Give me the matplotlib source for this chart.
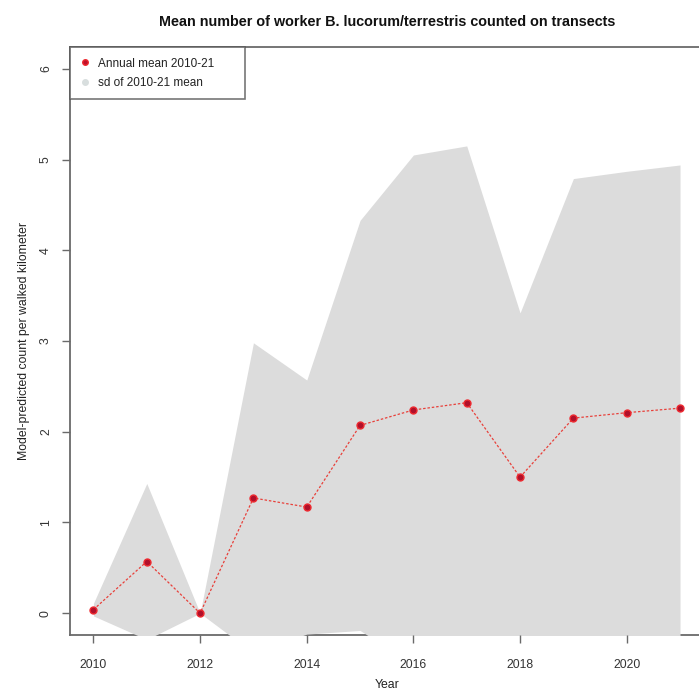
import matplotlib.pyplot as plt
import numpy as np
from matplotlib.lines import Line2D

plt.rcParams['font.family'] = ['Liberation Sans', 'DejaVu Sans']

# values
years = [2010, 2011, 2012, 2013, 2014, 2015, 2016, 2017, 2018, 2019, 2020, 2021]
annual_mean = [0.04, 0.57, 0.00, 1.27, 1.17, 2.07, 2.24, 2.32, 1.50, 2.15, 2.21, 2.26]
mean_sd = [0.07, 0.86, 0.00, 1.71, 1.40, 2.26, 2.81, 2.83, 1.81, 2.64, 2.66, 2.68]

x_ticks = [2010, 2012, 2014, 2016, 2018, 2020]
y_ticks = [0, 1, 2, 3, 4, 5, 6]

mean_arr = np.array(annual_mean)
sd_arr = np.array(mean_sd)
upper = mean_arr + sd_arr
lower = mean_arr - sd_arr

fig = plt.figure(figsize=(6.99, 6.93), dpi=100)
ax = fig.add_axes([70 / 699, 58 / 693, 633.5 / 699, 588 / 693])

# sd band (drawn over the box, like R's polygon)
ax.fill_between(years, lower, upper, color='#dcdcdc', linewidth=0, zorder=1)

# annual mean line + points
ax.plot(years, annual_mean, color='#e8403a', linestyle=(0, (2, 1.5)), linewidth=0.9, zorder=2)
ax.plot(years, annual_mean, linestyle='none', marker='o', markersize=5,
        markerfacecolor='#b0102a', markeredgecolor='#ee2a30', markeredgewidth=1.0, zorder=3)

ax.set_xlim(2009.56, 2021.44)
ax.set_ylim(-0.24, 6.24)
ax.set_xticks(x_ticks)
ax.set_yticks(y_ticks)
ax.set_yticklabels([str(v) for v in y_ticks], rotation=90, va='center')

for side in ['left', 'bottom', 'top', 'right']:
    ax.spines[side].set_color('#6a6a6a')
    ax.spines[side].set_linewidth(1.3)
    ax.spines[side].set_zorder(0.5)

ax.tick_params(axis='both', direction='out', length=6, width=1, color='#6a6a6a',
               labelsize=8.8, labelcolor='#333333')
ax.tick_params(axis='x', pad=11)
ax.tick_params(axis='y', pad=7)

ax.set_xlabel('Year', fontsize=8.8, color='#222222', labelpad=6)
ax.set_ylabel('Model-predicted count per walked kilometer', fontsize=8.8, color='#222222', labelpad=7)
ax.set_title('Mean number of worker B. lucorum/terrestris counted on transects',
             fontsize=10.4, fontweight='bold', color='#111111', pad=15)

handles = [
    Line2D([], [], linestyle='none', marker='o', markersize=4,
           markerfacecolor='#c0102a', markeredgecolor='#ee2a30'),
    Line2D([], [], linestyle='none', marker='o', markersize=4,
           markerfacecolor='#d8dede', markeredgecolor='#d8dede'),
]
leg = ax.legend(handles, ['Annual mean 2010-21', 'sd of 2010-21 mean'],
                loc='upper left', bbox_to_anchor=(0, 0.5, 175 / 633.5, 0.5), mode='expand',
                borderaxespad=0, fontsize=8.5, frameon=True, fancybox=False,
                handlelength=0.8, handletextpad=0.7, borderpad=0.9, labelspacing=0.6)
leg.get_frame().set_edgecolor('#555555')
leg.get_frame().set_linewidth(1.2)
leg.set_zorder(5)
for t in leg.get_texts():
    t.set_color('#222222')

fig.savefig('out.png', dpi=100)
